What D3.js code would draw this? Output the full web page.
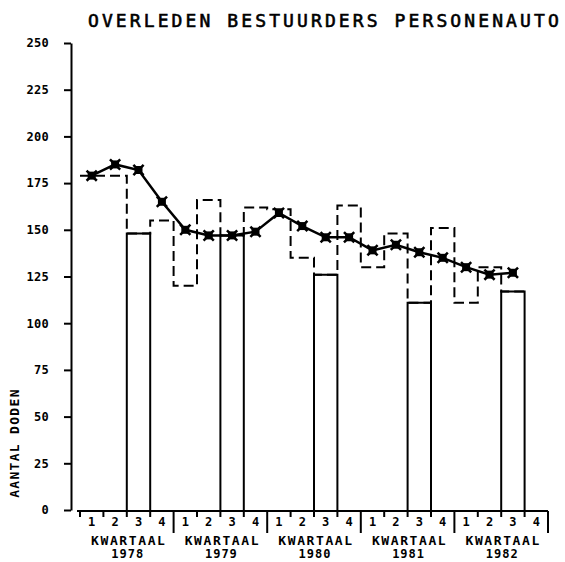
<!DOCTYPE html>
<html>
<head>
<meta charset="utf-8">
<script src="https://cdn.jsdelivr.net/npm/d3@7"></script>
<style>
  body { margin: 0; background: #fff; }
  text { font-family: "DejaVu Sans Mono", monospace; fill: #000; }
</style>
</head>
<body>
<div class="chart"></div>
<script>
// quarterly figures, 1978 Q1 .. 1982 Q3
var years = ["1978", "1979", "1980", "1981", "1982"];
var quarterNames = ["1", "2", "3", "4"];
var deaths = [179, 179, 148, 155,  120, 166, 147, 162,  161, 135, 126, 163,  130, 148, 111, 151,  111, 130, 117];
var trend  = [179, 185, 182, 165,  150, 147, 147, 149,  159, 152, 146, 146,  139, 142, 138, 135,  130, 126, 127];
var yTicks = [0, 25, 50, 75, 100, 125, 150, 175, 200, 225, 250];

var svg = d3.select(".chart").append("svg").attr("width", 565).attr("height", 562);

var x = d3.scaleLinear().domain([0, 20]).range([80, 548]);
var y = d3.scaleLinear().domain([0, 250]).range([510, 43]);

// title
svg.append("text")
    .attr("x", 88).attr("y", 27)
    .style("font-size", "18px")
    .style("letter-spacing", "3.1px")
    .attr("stroke", "#000").attr("stroke-width", 0.6)
    .text("OVERLEDEN BESTUURDERS PERSONENAUTO");

// y axis
var yAxis = svg.append("g")
    .attr("transform", "translate(71,0)")
    .call(d3.axisLeft(y).tickValues(yTicks).tickSize(7).tickPadding(15).tickSizeOuter(0));
yAxis.select(".domain").attr("stroke-width", 2);
yAxis.selectAll(".tick line").attr("stroke-width", 2);
yAxis.selectAll(".tick text")
    .style("font-family", "'DejaVu Sans Mono', monospace")
    .style("font-weight", "bold")
    .style("font-size", "12px")
    .style("letter-spacing", "0.3px");

svg.append("text")
    .attr("transform", "translate(19," + 443 + ") rotate(-90)")
    .attr("text-anchor", "middle")
    .style("font-weight", "bold")
    .style("font-size", "13px")
    .style("letter-spacing", "1.3px")
    .text("AANTAL DODEN");

// x axis
svg.append("line")
    .attr("x1", 77).attr("x2", x(20))
    .attr("y1", 511).attr("y2", 511)
    .attr("stroke", "#000").attr("stroke-width", 2);

svg.selectAll(".qtick")
    .data(d3.range(21))
    .enter().append("line")
    .attr("class", "qtick")
    .attr("x1", function(d) { return x(d); })
    .attr("x2", function(d) { return x(d); })
    .attr("y1", 511)
    .attr("y2", function(d) { return (d > 0 && d % 4 == 0) ? 533 : 517; })
    .attr("stroke", "#000").attr("stroke-width", 2);

svg.selectAll(".qlabel")
    .data(d3.range(20))
    .enter().append("text")
    .attr("class", "qlabel")
    .attr("x", function(d) { return x(d + 0.5); })
    .attr("y", 526)
    .attr("text-anchor", "middle")
    .style("font-weight", "bold")
    .style("font-size", "12px")
    .text(function(d) { return quarterNames[d % 4]; });

svg.selectAll(".kw")
    .data(years)
    .enter().append("text")
    .attr("class", "kw")
    .attr("x", function(d, i) { return x(i * 4 + 2) + 2; })
    .attr("y", 545)
    .attr("text-anchor", "middle")
    .style("font-weight", "bold")
    .style("font-size", "13px")
    .style("letter-spacing", "1.6px")
    .text("KWARTAAL");

svg.selectAll(".yr")
    .data(years)
    .enter().append("text")
    .attr("class", "yr")
    .attr("x", function(d, i) { return x(i * 4 + 2) + 1; })
    .attr("y", 558)
    .attr("text-anchor", "middle")
    .style("font-weight", "bold")
    .style("font-size", "12px")
    .style("letter-spacing", "1px")
    .text(function(d) { return d; });

// dashed step outline of all quarters
var stepPts = [];
deaths.forEach(function(v, i) {
    stepPts.push([i, v]);
    stepPts.push([i + 1, v]);
});
var line = d3.line()
    .x(function(d) { return x(d[0]); })
    .y(function(d) { return y(d[1]); });

svg.append("path")
    .attr("d", line(stepPts))
    .attr("fill", "none")
    .attr("stroke", "#000")
    .attr("stroke-width", 2)
    .attr("stroke-dasharray", "10,5");

// solid bars for the third quarter
var q3 = deaths.map(function(v, i) { return { i: i, v: v }; })
    .filter(function(d) { return d.i % 4 == 2; });

svg.selectAll(".bar")
    .data(q3)
    .enter().append("path")
    .attr("class", "bar")
    .attr("d", function(d) {
        return "M" + x(d.i) + "," + y(0) + "V" + y(d.v) + "H" + x(d.i + 1) + "V" + y(0);
    })
    .attr("fill", "none")
    .attr("stroke", "#000")
    .attr("stroke-width", 2);

// trend line with star markers
var trendLine = d3.line()
    .x(function(d, i) { return x(i + 0.5); })
    .y(function(d) { return y(d); });

svg.append("path")
    .attr("d", trendLine(trend))
    .attr("fill", "none")
    .attr("stroke", "#000")
    .attr("stroke-width", 2.5);

var marks = svg.selectAll(".mark")
    .data(trend)
    .enter().append("g")
    .attr("class", "mark")
    .attr("transform", function(d, i) { return "translate(" + x(i + 0.5) + "," + y(d) + ")"; });

marks.append("path")
    .attr("d", d3.symbol(d3.symbolSquare, 64))
    .attr("fill", "#000");
marks.append("path")
    .attr("d", d3.symbol(d3.symbolTimes, 70))
    .attr("fill", "none")
    .attr("stroke", "#000")
    .attr("stroke-width", 2.5);
</script>
</body>
</html>
